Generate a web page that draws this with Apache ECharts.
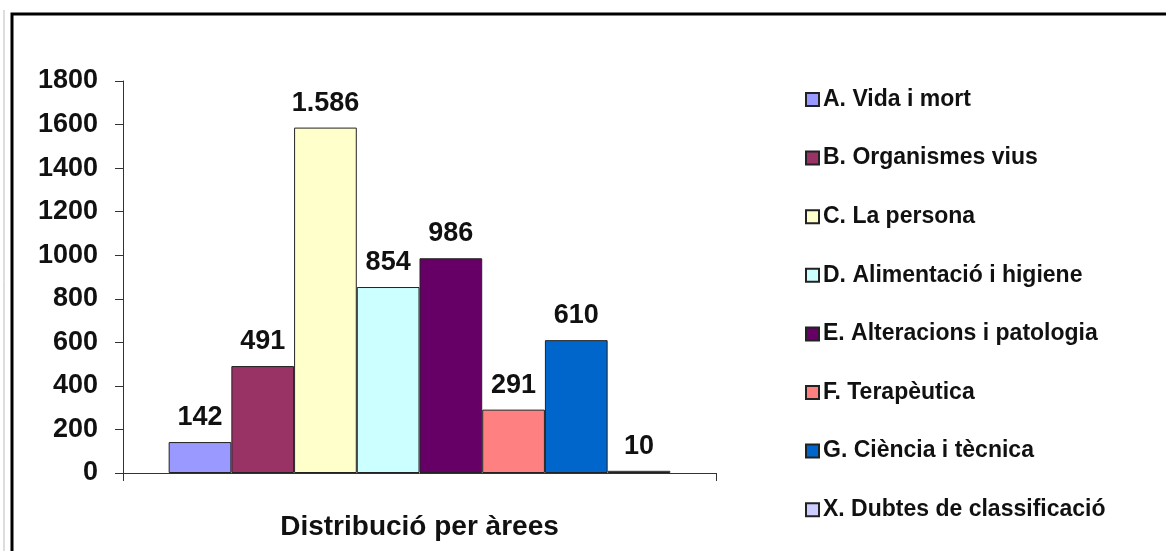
<!DOCTYPE html>
<html>
<head>
<meta charset="utf-8">
<script src="https://cdn.jsdelivr.net/npm/echarts@6/dist/echarts.min.js"></script>
<style>
  html, body { margin: 0; padding: 0; background: #fff; }
  #BarChart { width: 1166px; height: 551px; }
</style>
</head>
<body>
<div id="BarChart"></div>
<script>
var categories = ["Distribució per àrees"];
var names = [
  "A. Vida i mort",
  "B. Organismes vius",
  "C. La persona",
  "D. Alimentació i higiene",
  "E. Alteracions i patologia",
  "F. Terapèutica",
  "G. Ciència i tècnica",
  "X. Dubtes de classificació"
];
var values = [142, 491, 1586, 854, 986, 291, 610, 10];
var myColor = ["#9999FF", "#993366", "#FFFFCC", "#CCFFFF", "#660066", "#FF8080", "#0066CC", "#CCCCFF"];
var yTicks = [0, 1800, 200]; // min, max, interval

var font = "'Liberation Sans', Arial, sans-serif";

// 1586 -> 1.586
function fmt(v) {
  return String(v).replace(/\B(?=(\d{3})+(?!\d))/g, ".");
}

var series = names.map(function (n, i) {
  return {
    name: n,
    type: "bar",
    data: [values[i]],
    barGap: 0,
    barCategoryGap: "15.4%",
    itemStyle: {
      color: myColor[i],
      borderColor: "#222",
      borderWidth: 1
    },
    label: {
      show: true,
      position: "top",
      distance: 11,
      formatter: function (p) { return fmt(p.value); },
      fontFamily: font,
      fontWeight: "bold",
      fontSize: 27,
      color: "#111"
    }
  };
});

var myChart = echarts.init(document.getElementById("BarChart"));
myChart.setOption({
  animation: false,
  grid: { left: 123, right: 450, top: 81, bottom: 78 },
  legend: {
    orient: "vertical",
    left: 800,
    top: 83,
    icon: "rect",
    itemWidth: 13,
    itemHeight: 13,
    itemGap: 35.6,
    textStyle: {
      fontFamily: font,
      fontWeight: "bold",
      fontSize: 23,
      lineHeight: 23,
      color: "#111",
      padding: [0, 0, 0, -1]
    },
    data: names
  },
  xAxis: {
    type: "category",
    data: categories,
    name: categories[0],
    nameLocation: "middle",
    nameGap: 40,
    nameTextStyle: {
      fontFamily: font,
      fontWeight: "bold",
      fontSize: 28,
      color: "#111"
    },
    axisLine: { lineStyle: { color: "#333", width: 1 } },
    axisTick: { show: true, length: 8, lineStyle: { color: "#333" } },
    axisLabel: { show: false }
  },
  yAxis: {
    type: "value",
    min: yTicks[0],
    max: yTicks[1],
    interval: yTicks[2],
    splitLine: { show: false },
    axisLine: { show: true, lineStyle: { color: "#333", width: 1 } },
    axisTick: { show: true, length: 8, lineStyle: { color: "#333" } },
    axisLabel: {
      margin: 25,
      formatter: function (v) { return String(v); },
      fontFamily: font,
      fontWeight: "bold",
      fontSize: 27,
      color: "#111"
    }
  },
  // frame of the original picture
  graphic: [
    {
      type: "rect",
      shape: { x: 12, y: 14, width: 1200, height: 600 },
      style: { fill: "none", stroke: "#000", lineWidth: 3 },
      silent: true
    },
    {
      type: "line",
      shape: { x1: 4, y1: 10, x2: 4, y2: 551 },
      style: { stroke: "#bbb", lineWidth: 1 },
      silent: true
    }
  ],
  series: series
});
</script>
</body>
</html>
